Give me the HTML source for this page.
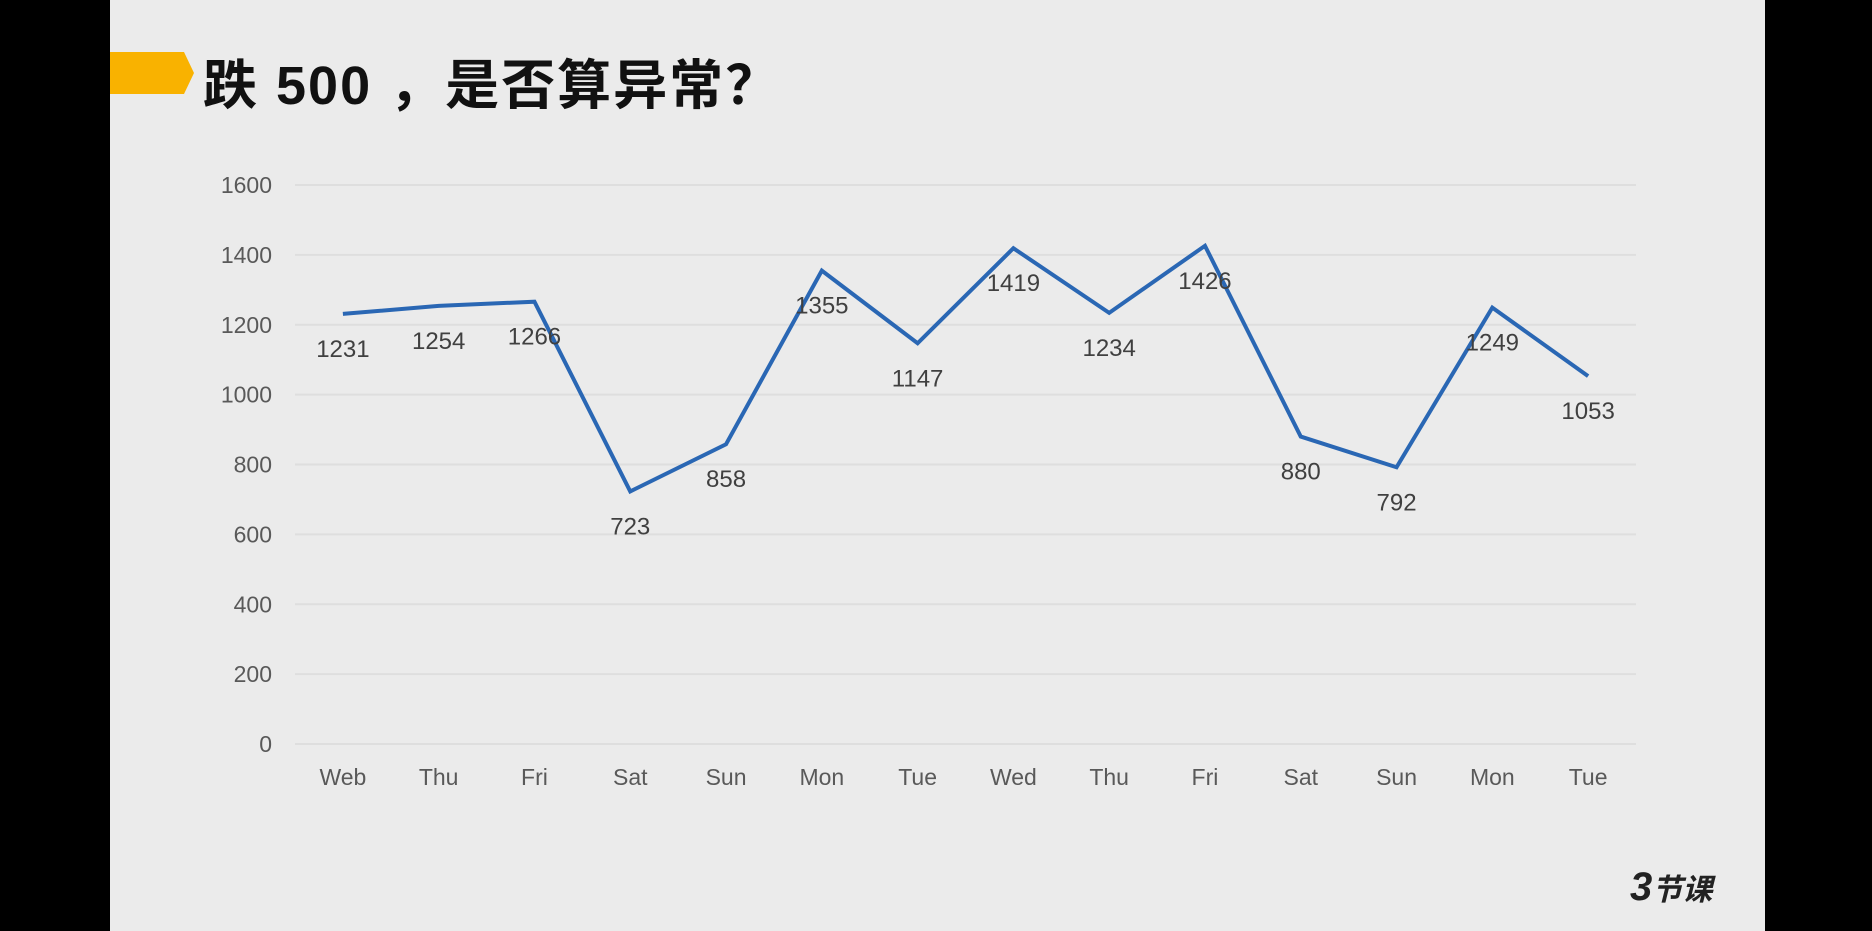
<!DOCTYPE html>
<html><head><meta charset="utf-8"><style>
html,body{margin:0;padding:0;background:#000;}
#wrap{position:relative;width:1872px;height:931px;background:#000;overflow:hidden;}
#slide{position:absolute;left:110px;top:0;width:1655px;height:931px;background:#ebebeb;}
#title{position:absolute;left:203px;top:41px;font:bold 54px "Liberation Sans","Noto Sans CJK SC",sans-serif;color:#111;white-space:nowrap;letter-spacing:2px;}
svg text{font-family:"Liberation Sans","Noto Sans CJK SC",sans-serif;}
</style></head><body>
<div id="wrap">
<div id="slide"></div>
<svg style="position:absolute;left:0;top:0" width="1872" height="931">
<polygon points="110,52 184,52 194,73 184,94 110,94" fill="#f9b200"/>
</svg>
<div id="title">跌 500 ，是否算异常？</div>
<svg id="chart" style="position:absolute;left:0;top:0" width="1872" height="931">
<g id="grid"></g><g id="ylab"></g><g id="xlab"></g><path id="line" fill="none" stroke="#2a67b4" stroke-width="4" stroke-linejoin="miter"/><g id="vals"></g>
<text x="1630" y="900" font-size="40" font-weight="bold" font-style="italic" fill="#222">3<tspan font-size="30">节课</tspan></text>
</svg>
</div>
<script>
const categories=["Web","Thu","Fri","Sat","Sun","Mon","Tue","Wed","Thu","Fri","Sat","Sun","Mon","Tue"];
const values=[1231,1254,1266,723,858,1355,1147,1419,1234,1426,880,792,1249,1053];
const yTicks=[0,200,400,600,800,1000,1200,1400,1600];
const NS="http://www.w3.org/2000/svg";
const y0=744,y1=185,x0=295,x1=1636;
const band=(x1-x0)/categories.length;
const ys=v=>y0-(v/1600)*(y0-y1);
const xs=i=>x0+band*(i+0.5);
function mk(tag,attrs,parent){const e=document.createElementNS(NS,tag);for(const k in attrs)e.setAttribute(k,attrs[k]);document.getElementById(parent).appendChild(e);return e;}
yTicks.forEach(t=>{
 const l=mk('line',{x1:x0,x2:x1,y1:ys(t),y2:ys(t),stroke:'#dedede','stroke-width':2},'grid');
 
 
 const tx=mk('text',{x:272,y:ys(t)+8,'text-anchor':'end','font-size':23,fill:'#595959'},'ylab');
 tx.textContent=t;
 
 
});
categories.forEach((c,i)=>{
 const tx=mk('text',{x:xs(i),y:785,'text-anchor':'middle','font-size':23,fill:'#595959'},'xlab');
 tx.textContent=c;
 
 
});
document.getElementById('line').setAttribute('d',values.map((v,i)=>(i?'L':'M')+xs(i)+','+ys(v)).join(''));
values.forEach((v,i)=>{
 const tx=mk('text',{x:xs(i),y:ys(v)+43,'text-anchor':'middle','font-size':24,fill:'#404040'},'vals');
 tx.textContent=v;
 
 
});
</script>
</body></html>
